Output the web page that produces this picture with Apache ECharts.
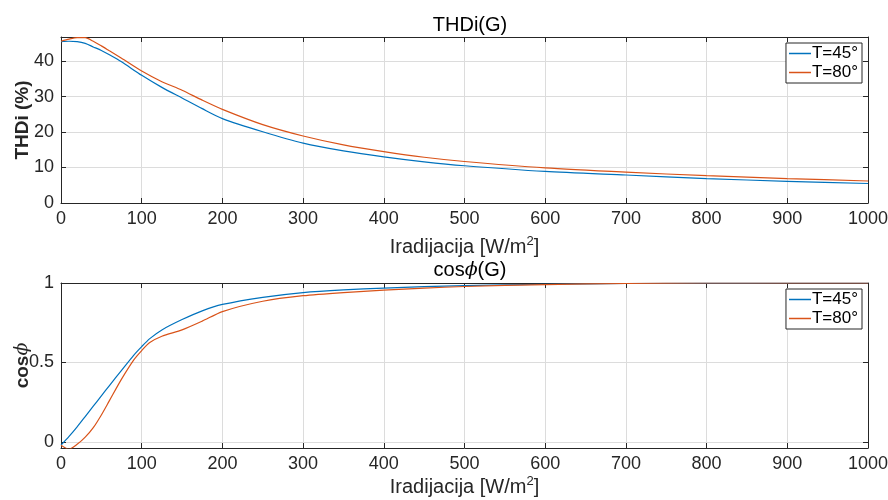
<!DOCTYPE html>
<html><head><meta charset="utf-8">
<script src="https://cdn.jsdelivr.net/npm/echarts@6/dist/echarts.min.js"></script>
<style>html,body{margin:0;padding:0;background:#fff}#c{width:888px;height:500px}</style>
</head><body><div id="c"></div>
<script>
const thdX = [0,10,20,30,40,50,60,75,100,125,150,175,200,250,300,350,400,450,500,600,700,800,900,1000];
const thd45 = [45.5,45.6,45.5,45.0,44.0,43.0,41.8,39.8,36.0,32.6,29.6,26.6,23.8,20.1,16.9,14.7,13.0,11.6,10.5,8.9,7.9,6.9,6.1,5.5];
const thd80 = [45.6,46.2,46.6,46.6,45.6,44.3,42.9,40.8,37.2,34.2,31.8,29.0,26.4,22.1,18.9,16.4,14.5,12.9,11.7,9.9,8.7,7.7,6.9,6.2];
const cosX = [0,10,20,30,40,50,60,75,90,100,110,125,150,175,200,250,300,350,400,450,500,600,700,800,900,1000];
const cos45 = [-0.02,0.035,0.095,0.16,0.225,0.29,0.355,0.45,0.545,0.60,0.65,0.705,0.77,0.825,0.865,0.91,0.94,0.957,0.968,0.977,0.984,0.992,0.997,0.999,1.0,1.0];
const cos80 = [-0.02,-0.045,-0.015,0.03,0.09,0.17,0.26,0.395,0.515,0.575,0.625,0.665,0.705,0.76,0.82,0.885,0.92,0.94,0.955,0.968,0.978,0.99,0.997,1.0,1.0,1.0];
const xTicks = [0,100,200,300,400,500,600,700,800,900,1000];
const thdTicks = [0,10,20,30,40];
const cosTicks = [0,0.5,1];
const names = ['T=45°','T=80°'];
const colors = ['#0072BD','#D95319'];

const FONT = "'Liberation Sans', Arial, Helvetica, sans-serif";
const AX = '#262626';
const pairs = (xs, ys) => xs.map((x,i)=>[x, ys[i]]);

function xAx(grid, pos, labels, name, gap) {
  return {
    type:'value', gridIndex:grid, position:pos, min:0, max:1000,
    axisLine:{show:true, onZero:false, lineStyle:{color:AX, width:1}},
    axisTick:{show:true, inside:true, length:5, lineStyle:{color:AX}, customValues:xTicks},
    axisLabel:{show:labels, color:AX, fontSize:18, fontFamily:FONT, margin:7, customValues:xTicks, formatter:v=>String(v)},
    splitLine:{show:labels, lineStyle:{color:'#dcdcdc', width:1}},
    name: name || '', nameLocation:'middle', nameGap:gap || 30, nameMoveOverlap:false,
    nameTextStyle:{ rich:{ a:{fontSize:20, fontFamily:FONT, color:AX}, s:{fontSize:13, fontFamily:FONT, color:AX, verticalAlign:'top', padding:[0,0,11,0]} } }
  };
}
function yAx(grid, pos, labels, min, max, ticks, name, gap) {
  return {
    type:'value', gridIndex:grid, position:pos, min:min, max:max,
    axisLine:{show:true, onZero:false, lineStyle:{color:AX, width:1}},
    axisTick:{show:true, inside:true, length:5, lineStyle:{color:AX}, customValues:ticks},
    axisLabel:{show:labels, color:AX, fontSize:18, fontFamily:FONT, margin:7, customValues:ticks},
    splitLine:{show:labels, lineStyle:{color:'#dcdcdc', width:1}},
    name: name || '', nameLocation:'middle', nameGap:gap || 30, nameRotate:90, nameMoveOverlap:false,
    nameTextStyle:{ rich:{ a:{fontSize:19, fontWeight:'bold', fontFamily:FONT, color:AX}, i:{fontSize:19, fontStyle:'italic', fontFamily:"'DejaVu Serif', serif", color:AX} } }
  };
}
const xname = '{a|Iradijacija [W/m}{s|2}{a|]}';
const legendBase = {
  orient:'vertical', right:26, itemWidth:22, itemHeight:1.5, itemGap:2, icon:'rect',
  padding:[2,4,2,3], borderColor:AX, borderWidth:1, backgroundColor:'#fff', borderRadius:0,
  textStyle:{fontSize:17, fontFamily:FONT, color:'#000', padding:[0,0,0,-4]}, data:names
};
const line = (name, xs, ys, xi, yi, c) => ({
  name, type:'line', xAxisIndex:xi, yAxisIndex:yi, data:pairs(xs, ys), showSymbol:false, symbol:'none',
  smooth:0.25, lineStyle:{color:c, width:1.2}, itemStyle:{color:c}, clip:true, animation:false
});

const option = {
  animation:false,
  title:[
    {text:'THDi(G)', left:465, top:10, textAlign:'center', textStyle:{fontSize:20, fontWeight:'normal', fontFamily:FONT, color:'#000'}},
    {text:'{a|cos}{i|ϕ}{a|(G)}', left:465, top:255, textAlign:'center', textStyle:{fontWeight:'normal', rich:{a:{fontSize:20, fontWeight:'normal', fontFamily:FONT, color:'#000'}, i:{fontSize:19, fontWeight:'normal', fontStyle:'italic', fontFamily:"'DejaVu Serif', serif", color:'#000'}}}}
  ],
  grid:[
    {left:61, right:20, top:37, height:166, outerBoundsMode:'none', containLabel:false},
    {left:61, right:20, top:283, height:165, outerBoundsMode:'none', containLabel:false}
  ],
  xAxis:[xAx(0,'bottom',true,xname,32), xAx(0,'top',false), xAx(1,'bottom',true,xname,27), xAx(1,'top',false)],
  yAxis:[
    yAx(0,'left',true,0,46.8,thdTicks,'{a|THDi (%)}',29), yAx(0,'right',false,0,46.8,thdTicks),
    yAx(1,'left',true,-0.038,1,cosTicks,'{a|cos}{i|ϕ}',29), yAx(1,'right',false,-0.038,1,cosTicks)
  ],
  legend:[Object.assign({top:43}, legendBase), Object.assign({top:289}, legendBase)],
  series:[
    line(names[0], thdX, thd45, 0, 0, colors[0]),
    line(names[1], thdX, thd80, 0, 0, colors[1]),
    line(names[0], cosX, cos45, 2, 2, colors[0]),
    line(names[1], cosX, cos80, 2, 2, colors[1])
  ]
};
const chart = echarts.init(document.getElementById('c'), null, {renderer:'canvas'});
chart.setOption(option);
</script></body></html>
